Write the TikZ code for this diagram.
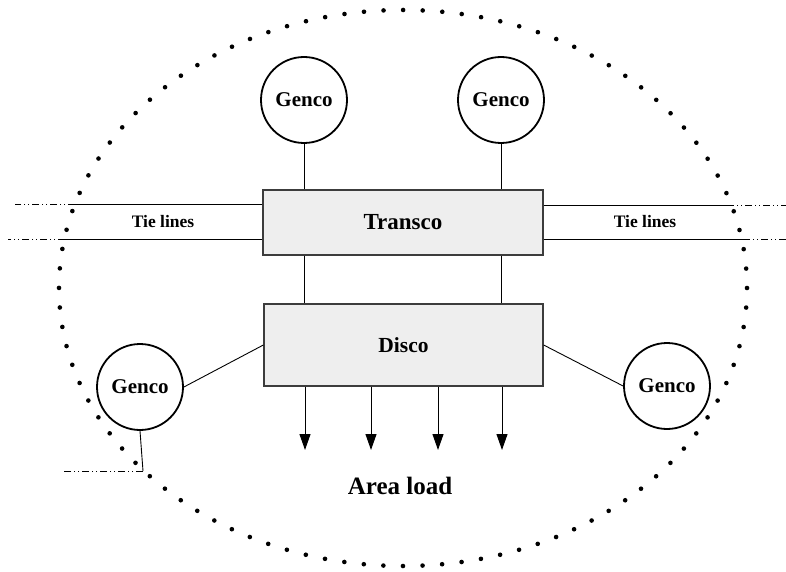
\documentclass[tikz,border=0pt]{standalone}
\usepackage{fontspec}
\setmainfont{Liberation Serif}
\usetikzlibrary{arrows.meta,calc}
\definecolor{boxgray}{RGB}{238,238,238}
\definecolor{edgegray}{RGB}{60,60,60}
\tikzset{
  genco/.style={circle,draw,line width=1.8pt,minimum size=86pt,inner sep=0pt,
    font=\fontsize{21}{24}\selectfont\bfseries},
  company/.style={rectangle,draw=edgegray,fill=boxgray,line width=1.3pt,
    font=\fontsize{21.5}{25}\selectfont\bfseries},
  tiedash/.style={line width=0.9pt,dash pattern=on 7pt off 3pt on 1pt off 3pt on 1pt off 3pt},
  wire/.style={line width=0.9pt},
  loadarrow/.style={line width=1pt,-{Triangle[length=16pt,width=11pt]}}
}
\begin{document}
\begin{tikzpicture}[x=1pt,y=-1pt]
		\useasboundingbox (0,0) rectangle (786,572);
		% control area boundary
		\draw[line width=4.6pt,line cap=round,dash pattern=on 0pt off 19.6pt]
		(403,288) ellipse [x radius=344, y radius=278];
		
		\node[company,minimum width=280pt,minimum height=65pt,
		font=\fontsize{23}{27}\selectfont\bfseries] (transco) at (403,222.5) {Transco};
		\node[company,minimum width=279pt,minimum height=82pt] (disco) at (403.5,345) {Disco};
		
		\node[genco] (gencoA) at (304,100) {Genco};
		\node[genco] (gencoB) at (501,100) {Genco};
		\node[genco] (gencoC) at (140,387) {Genco};
		\node[genco] (gencoD) at (667,386) {Genco};
		
		\draw[wire] (gencoA) -- (gencoA |- transco.north);
		\draw[wire] (gencoB) -- (gencoB |- transco.north);
		\draw[wire] (transco.south -| gencoA) -- (disco.north -| gencoA);
		\draw[wire] (transco.south -| gencoB) -- (disco.north -| gencoB);
		\draw[wire] (gencoC.east) -- (disco.west);
		\draw[wire] (disco.east) -- (gencoD.west);
		
		% tie lines
		\coordinate (tieLA) at (75,204);
		\coordinate (tieLB) at (65,239);
		\coordinate (tieRA) at (727,205);
		\coordinate (tieRB) at (743,239);
		\draw[wire] (transco.west |- tieLA) -- (tieLA);
		\draw[tiedash] (tieLA) -- (15,204);
		\draw[wire] (transco.west |- tieLB) -- (tieLB);
		\draw[tiedash] (tieLB) -- (8,239);
		\draw[wire] (transco.east |- tieRA) -- (tieRA);
		\draw[tiedash] (tieRA) -- (786,205);
		\draw[wire] (transco.east |- tieRB) -- (tieRB);
		\draw[tiedash] (tieRB) -- (786,239);
		\node[font=\fontsize{17.5}{20}\selectfont\bfseries] (tieL) at (163,222) {Tie lines};
		\node[font=\fontsize{17.5}{20}\selectfont\bfseries] (tieR) at (645,222) {Tie lines};
		
		% tie from lower genco
		\coordinate (tieC) at (143,471);
		\draw[wire] (gencoC.south) -- (tieC);
		\draw[tiedash] (tieC) -- (62,471);
		
		% loads
		\foreach \x [count=\i] in {305,371,438,502}{
			\coordinate (load\i) at (\x,450);
			\draw[loadarrow] (disco.south -| load\i) -- (load\i);
		}
		\node[font=\fontsize{25}{29}\selectfont\bfseries] (area) at (400,486) {Area load};
\end{tikzpicture}
\end{document}
